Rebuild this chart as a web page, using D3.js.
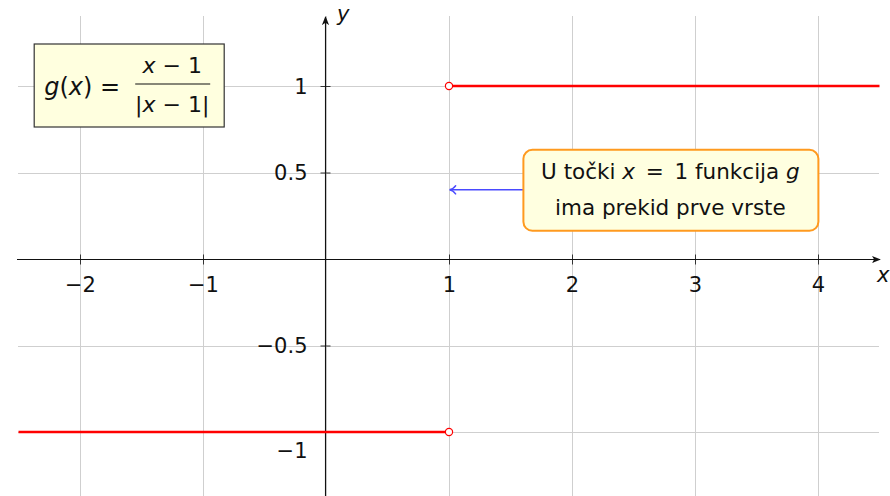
<!DOCTYPE html>
<html>
<head>
<meta charset="utf-8">
<script src="https://cdn.jsdelivr.net/npm/d3@7/dist/d3.min.js"></script>
<style>
  html, body { margin: 0; padding: 0; background: #fff; }
  svg { display: block; }
  text { font-family: "DejaVu Sans", "Liberation Sans", sans-serif; fill: #111; }
</style>
</head>
<body>
<svg id="chart" width="890" height="496"></svg>
<script>
// Piecewise constant function g(x) = (x-1)/|x-1|
const segXStart = [-2.5, 1];
const segXEnd = [1, 4.5];
const segY = [-1, 1];
const holeX = [1, 1];
const holeY = [-1, 1];

const xTicks = [-2, -1, 1, 2, 3, 4];
const yTicks = [-1, -0.5, 0.5, 1];
const xGrid = [-2, -1, 0, 1, 2, 3, 4];
const yGrid = [-1, -0.5, 0, 0.5, 1];

const noteLines = [
  [{t: "U točki "}, {t: "x", i: true}, {t: "\u2002=\u20021 funkcija "}, {t: "g", i: true}],
  [{t: "ima prekid prve vrste"}]
];
const noteAnchor = {x: 2.8, y: 0.4};
const noteTarget = {x: 1, y: 0.4};

const fmt = v => (v < 0 ? "\u2212" : "") + Math.abs(v);
const FONT = "DejaVu Sans, Liberation Sans, sans-serif";

const svg = d3.select("#chart");
const W = 890, H = 496;

const x = d3.scaleLinear().domain([-2.5, 4.5]).range([18.5, 879.5]);
const y = d3.scaleLinear().domain([-1.4, 1.4]).range([501.2, 16.8]);

// grid
const grid = svg.append("g").attr("stroke", "#cfcfcf").attr("stroke-width", 1);
grid.selectAll(".gx").data(xGrid).join("line")
  .attr("x1", d => Math.round(x(d)) + 0.5).attr("x2", d => Math.round(x(d)) + 0.5)
  .attr("y1", 16).attr("y2", H);
grid.selectAll(".gy").data(yGrid).join("line")
  .attr("y1", d => Math.round(y(d)) + 0.5).attr("y2", d => Math.round(y(d)) + 0.5)
  .attr("x1", 18).attr("x2", 879);

// arrow markers
const defs = svg.append("defs");
defs.append("marker").attr("id", "axarrow")
  .attr("viewBox", "0 0 10 10").attr("refX", 9).attr("refY", 5)
  .attr("markerWidth", 9).attr("markerHeight", 9).attr("markerUnits", "userSpaceOnUse")
  .attr("orient", "auto")
  .append("path").attr("d", "M0,1 L10,5 L0,9 L2.5,5 Z").attr("fill", "#111");
defs.append("marker").attr("id", "bluearrow")
  .attr("viewBox", "0 0 10 10").attr("refX", 9).attr("refY", 5)
  .attr("markerWidth", 10).attr("markerHeight", 10).attr("markerUnits", "userSpaceOnUse")
  .attr("orient", "auto")
  .append("path").attr("d", "M3,0.5 Q6,4.5 9.5,5 Q6,5.5 3,9.5").attr("fill", "none")
  .attr("stroke", "#4a4aff").attr("stroke-width", 1.4);

// x axis
const x0 = Math.round(y(0)) + 0.5;
const xAxis = d3.axisBottom(x).tickValues(xTicks).tickFormat(fmt).tickSizeOuter(0);
const gx = svg.append("g").attr("transform", `translate(0,${x0})`).call(xAxis);
gx.select(".domain").remove();
gx.selectAll(".tick line").attr("y1", -5).attr("y2", 5).attr("stroke", "#333");
gx.selectAll(".tick text").attr("y", 25).attr("dy", "0.35em")
  .style("font-size", "21px").style("font-family", FONT).attr("fill", "#111");
svg.append("line").attr("x1", 17).attr("x2", 880).attr("y1", x0).attr("y2", x0)
  .attr("stroke", "#111").attr("stroke-width", 1.1).attr("marker-end", "url(#axarrow)");

// y axis
const y0 = Math.round(x(0)) - 0.5;
const yAxis = d3.axisLeft(y).tickValues(yTicks).tickFormat(fmt).tickSizeOuter(0);
const gy = svg.append("g").attr("transform", `translate(${y0},0)`).call(yAxis);
gy.select(".domain").remove();
gy.selectAll(".tick line").attr("x1", -5).attr("x2", 5).attr("stroke", "#333");
gy.selectAll(".tick text").attr("x", -18).attr("dy", d => d === -1 ? "1.2em" : "0.35em")
  .style("font-size", "21px").style("font-family", FONT).attr("fill", "#111");
svg.append("line").attr("x1", y0).attr("x2", y0).attr("y1", H).attr("y2", 17)
  .attr("stroke", "#111").attr("stroke-width", 1.1).attr("marker-end", "url(#axarrow)");

// axis labels
svg.append("text").attr("x", 877).attr("y", 282).attr("font-style", "italic")
  .style("font-size", "21px").text("x");
svg.append("text").attr("x", 337).attr("y", 21).attr("font-style", "italic")
  .style("font-size", "21px").text("y");

// function graph
const segs = segY.map((v, i) => ({a: segXStart[i], b: segXEnd[i], v}));
svg.append("g").selectAll("line").data(segs).join("line")
  .attr("x1", d => x(d.a)).attr("x2", d => x(d.b))
  .attr("y1", d => y(d.v)).attr("y2", d => y(d.v))
  .attr("stroke", "#ff0000").attr("stroke-width", 2.6);
svg.append("g").selectAll("circle").data(holeX.map((v, i) => ({x: v, y: holeY[i]}))).join("circle")
  .attr("cx", d => x(d.x)).attr("cy", d => y(d.y)).attr("r", 3.6)
  .attr("fill", "#fff").attr("stroke", "#ff0000").attr("stroke-width", 1.2);

// formula box
const fb = svg.append("g").attr("transform", `translate(${x(-1.6)},${y(1)})`);
fb.append("rect").attr("x", -95).attr("y", -42).attr("width", 190).attr("height", 83)
  .attr("fill", "#ffffdf").attr("stroke", "#333").attr("stroke-width", 1.2);
const ft = fb.append("text").attr("x", -85).attr("y", 9).style("font-size", "24px");
ft.append("tspan").attr("font-style", "italic").text("g");
ft.append("tspan").text("(");
ft.append("tspan").attr("font-style", "italic").text("x");
ft.append("tspan").text(") =");
const num = fb.append("text").attr("x", 43).attr("y", -13).attr("text-anchor", "middle").style("font-size", "22px");
num.append("tspan").attr("font-style", "italic").text("x");
num.append("tspan").text(" \u2212 1");
fb.append("line").attr("x1", 6).attr("x2", 81).attr("y1", -2).attr("y2", -2)
  .attr("stroke", "#111").attr("stroke-width", 1.2);
const den = fb.append("text").attr("x", 43).attr("y", 26).attr("text-anchor", "middle").style("font-size", "22px");
den.append("tspan").text("|");
den.append("tspan").attr("font-style", "italic").text("x");
den.append("tspan").text(" \u2212 1|");

// annotation
const ax = x(noteAnchor.x), ay = y(noteAnchor.y);
svg.append("line").attr("x1", ax - 147).attr("x2", x(noteTarget.x) + 1)
  .attr("y1", y(noteTarget.y)).attr("y2", y(noteTarget.y))
  .attr("stroke", "#4a4aff").attr("stroke-width", 1.4).attr("marker-end", "url(#bluearrow)");
const nb = svg.append("g").attr("transform", `translate(${ax},${ay})`);
nb.append("rect").attr("x", -147).attr("y", -40).attr("width", 295).attr("height", 81)
  .attr("rx", 9).attr("fill", "#ffffe0").attr("stroke", "#ff9a1f").attr("stroke-width", 2);
noteLines.forEach((line, i) => {
  const t = nb.append("text").attr("x", 0).attr("y", i === 0 ? -11 : 25)
    .attr("text-anchor", "middle").style("font-size", "21.5px");
  line.forEach(p => t.append("tspan").attr("font-style", p.i ? "italic" : null).text(p.t));
});
</script>
</body>
</html>
